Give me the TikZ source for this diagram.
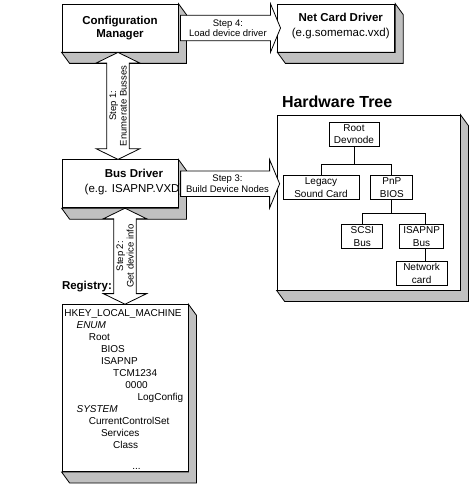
\documentclass[tikz,border=0pt]{standalone}
\usepackage{fontspec}
\setmainfont{Liberation Sans}
\usetikzlibrary{shapes,arrows,positioning,calc}

\definecolor{facegray}{RGB}{192,192,192}

\begin{document}
\begin{tikzpicture}[x=1pt,y=1pt,line width=0.8pt,
        mainbox/.style={draw, rectangle, fill=white, minimum width=116pt, minimum height=48pt, inner sep=0pt, align=center, font=\fontsize{11.5}{13}\selectfont},
        treebox/.style={draw, rectangle, fill=white, minimum height=24pt, inner sep=0pt, align=center, font=\fontsize{10}{12.5}\selectfont},
        stepright/.style={single arrow, draw, fill=white, single arrow head extend=11.5pt, single arrow tip angle=135, inner xsep=0pt, inner ysep=3.7pt, align=center, font=\fontsize{9.5}{10.5}\selectfont},
        stepdown/.style={double arrow, draw, fill=white, rotate=90, double arrow head extend=10.5pt, double arrow tip angle=128, inner xsep=0pt, inner ysep=2.2pt, align=center, font=\fontsize{9.5}{10.5}\selectfont},
        regline/.style={anchor=base west, inner sep=0pt, font=\fontsize{10}{12}\selectfont}]
        \useasboundingbox (0,0) rectangle (469,-484);

        % Main boxes
        \node[mainbox] (cm) at (120,-28) {\textbf{Configuration}\\\textbf{Manager}};
        \node[mainbox, minimum width=117pt, right=99pt of cm] (net) {};
        \node[mainbox, below=107pt of cm] (bus) {};
        \node[draw, rectangle, fill=white, minimum width=183pt, minimum height=175pt] (hw) at (368.5,-202.5) {};
        \node[draw, rectangle, fill=white, minimum width=126pt, minimum height=167pt, below=96pt of bus, xshift=5pt] (reg) {};

        % 3D faces
        \foreach \b in {cm,net,bus,hw,reg}
            \filldraw[fill=facegray] (\b.north east) -- ++(8,-11) |- ([shift={(8,-11)}]\b.south west) -- (\b.south west) -- (\b.south east) -- cycle;

        % Box texts
        \node[align=center, font=\fontsize{11.5}{15}\selectfont] (nettext) at ([xshift=4.5pt,yshift=2pt]net.center) {\textbf{Net Card Driver}\\(e.g.somemac.vxd)};
        \node[align=center, font=\fontsize{11.5}{15}\selectfont] (bustext) at ([xshift=14pt,yshift=1.5pt]bus.center) {\textbf{Bus Driver}\\(e.g. ISAPNP.VXD)};
        \node[anchor=base west, inner sep=0pt, font=\fontsize{16}{18}\selectfont\bfseries] (hwtitle) at ([xshift=5pt,yshift=7pt]hw.north west) {Hardware Tree};
        \node[anchor=base west, inner sep=0pt, font=\fontsize{11.5}{13}\selectfont\bfseries] (regtitle) at ([yshift=15pt]reg.north west) {Registry:};

        % Hardware tree
        \node[treebox, minimum width=50pt] (root) at (354,-134) {Root\\Devnode};
        \node[treebox, minimum width=76pt, below=29pt of root, xshift=-33pt] (legacy) {Legacy\\Sound Card};
        \node[treebox, minimum width=42pt, right=11pt of legacy] (pnp) {PnP\\BIOS};
        \node[treebox, minimum width=41pt, below=24pt of pnp, xshift=-29.5pt] (scsi) {SCSI\\Bus};
        \node[treebox, minimum width=44pt, right=16pt of scsi] (isapnp) {ISAPNP\\Bus};
        \node[treebox, minimum width=51pt, below=12pt of isapnp] (netcard) {Network\\card};

        \draw (root.south) -- ++(0,-18) -| (legacy.north);
        \draw (root.south) -- ++(0,-18) -| (pnp.north);
        \draw (pnp.south) -- ++(0,-13) -| (scsi.north);
        \draw (pnp.south) -- ++(0,-13) -| ([xshift=4pt]isapnp.north);
        \draw ([xshift=4pt]isapnp.south) -- ([xshift=4pt]isapnp.south |- netcard.north);

        % Registry keys
        \foreach \lvl/\txt [count=\i] in {0/HKEY\_LOCAL\_MACHINE, 1/\textit{ENUM}, 2/Root, 3/BIOS, 3/ISAPNP, 4/TCM1234, 5/0000, 6/LogConfig, 1/\textit{SYSTEM}, 2/CurrentControlSet, 3/Services, 4/Class}
            \node[regline] (reg\i) at ({64+12.2*\lvl},{-304.5-12*\i}) {\txt};
        \node[regline] (regmore) at (132,-469) {...};

        % Steps
        \node[stepright, minimum height=100pt] (step4) at ($(cm.east)!.5!(net.west)$) {Step 4:\\Load device driver};
        \node[stepright, minimum height=99pt] (step3) at ($(bus.east)!.5!(bus.east -| hw.west)$) {Step 3:\\Build Device Nodes};
        \node[stepdown, minimum height=107pt] (step1) at ($(cm.south)!.5!(bus.north)+(-2,0)$) {Step 1:\\Enumerate Busses};
        \node[stepdown, minimum height=96pt] (step2) at ($(bus.south)!.5!(reg.north)+(2.5,0)$) {Step 2:\\Get device info};
\end{tikzpicture}
\end{document}
